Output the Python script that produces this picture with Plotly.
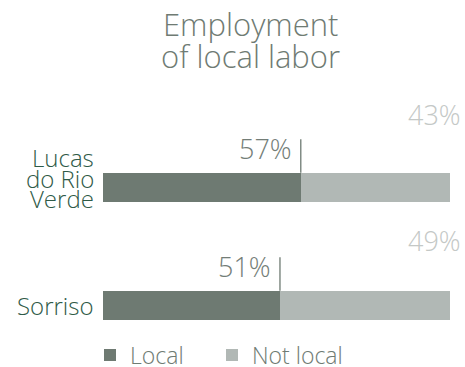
import plotly.graph_objects as go

# ---- data ----
categories = ["Lucas do Rio Verde", "Sorriso"]
category_lines = [["Lucas", "do Rio", "Verde"], ["Sorriso"]]
local_pct = [57, 51]
not_local_pct = [43, 49]
series_names = ["Local", "Not local"]
title_lines = ["Employment", "of local labor"]

# ---- style ----
FONT = "Open Sans"
C_LOCAL = "#6e7a72"
C_NOT = "#b1b8b5"
C_LOCAL_TXT = "#737d77"
C_NOT_TXT = "#c4c8c6"
C_CAT = "#2f5a47"
C_TITLE = "#6f7b73"
W, H = 465, 367
L, R = 103, 15
PW = W - L - R
ypos = [1, 0]
BAR_W = 0.245
half = BAR_W / 2
not_label_shift = [40, 32]   # px above bar top (box bottom)
legend_left_px = [90, 212]

fig = go.Figure()
fig.add_trace(go.Bar(
    y=ypos, x=local_pct, orientation="h", name=series_names[0],
    marker=dict(color=C_LOCAL, line=dict(width=0)), width=BAR_W,
    hoverinfo="skip", legend="legend"))
fig.add_trace(go.Bar(
    y=ypos, x=not_local_pct, orientation="h", name=series_names[1],
    marker=dict(color=C_NOT, line=dict(width=0)), width=BAR_W,
    hoverinfo="skip", legend="legend2"))

annotations = []
shapes = []
for i, cat in enumerate(categories):
    yc = ypos[i]
    loc = local_pct[i]
    nl = not_local_pct[i]
    shapes.append(dict(type="line", xref="x", yref="y",
                       x0=loc, x1=loc, y0=yc + half, y1=yc + half + 0.285,
                       line=dict(color="#6e7a72", width=1.3)))
    annotations.append(dict(x=loc, y=yc + half, xref="x", yref="y",
                            text=f"{loc}%", showarrow=False,
                            xanchor="right", yanchor="bottom",
                            xshift=-7, yshift=4,
                            font=dict(family=FONT, size=27, color=C_LOCAL_TXT, weight=300)))
    annotations.append(dict(x=loc + nl, y=yc + half, xref="x", yref="y",
                            text=f"{nl}%", showarrow=False,
                            xanchor="right", yanchor="bottom",
                            xshift=13, yshift=not_label_shift[i] - 2,
                            font=dict(family=FONT, size=27, color=C_NOT_TXT, weight=300)))
    lines = category_lines[i]
    n = len(lines)
    for j, ln in enumerate(lines):
        off = (j - (n - 1) / 2) * 20.5 - (9 if n > 1 else 0)
        annotations.append(dict(x=0, y=yc, xref="x", yref="y",
                                text=ln, showarrow=False,
                                xanchor="right", yanchor="middle",
                                xshift=-7, yshift=-off,
                                font=dict(family=FONT, size=24, color=C_CAT, weight=300)))

for j, t in enumerate(title_lines):
    annotations.append(dict(x=(250 - L) / PW, y=1, xref="paper", yref="paper",
                            text=t, showarrow=False,
                            xanchor="center", yanchor="top",
                            yshift=-1 - 32 * j,
                            font=dict(family=FONT, size=31, color=C_TITLE, weight=300)))

legend_common = dict(orientation="h", xanchor="left",
                     y=(H - 355) / H, yanchor="middle",
                     xref="paper", yref="paper",
                     font=dict(family=FONT, size=23, color=C_TITLE, weight=300),
                     itemclick=False, itemdoubleclick=False,
                     bgcolor="rgba(0,0,0,0)")

fig.update_layout(
    width=W, height=H,
    margin=dict(l=L, r=R, t=0, b=0, autoexpand=False),
    paper_bgcolor="white", plot_bgcolor="white",
    barmode="stack", bargap=0,
    showlegend=True,
    legend=dict(x=(legend_left_px[0] - L) / PW, **legend_common),
    legend2=dict(x=(legend_left_px[1] - L) / PW, **legend_common),
    xaxis=dict(range=[0, 100], visible=False, fixedrange=True),
    yaxis=dict(range=[-0.523, 2.587], visible=False, fixedrange=True),
    annotations=annotations, shapes=shapes,
)

fig.write_html("out.html")
